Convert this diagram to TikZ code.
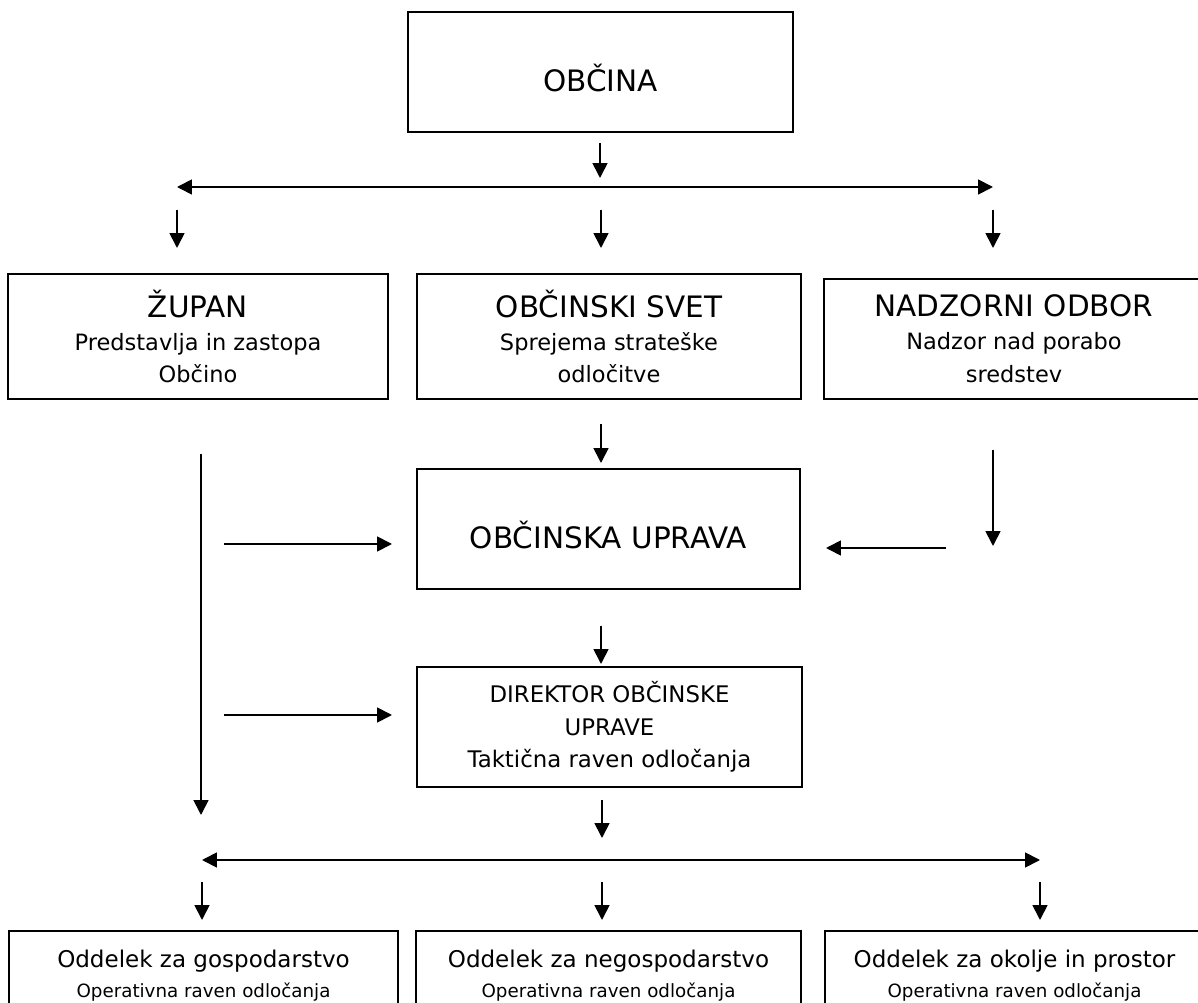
\documentclass[tikz,border=0pt]{standalone}
\usepackage{fontspec}
\setmainfont{DejaVu Sans}
\usetikzlibrary{arrows.meta,positioning,calc}

\newcommand{\naslov}{\fontsize{16.8}{19}\selectfont}
\newcommand{\opis}{\fontsize{12.8}{18.7}\selectfont}
\newcommand{\srednji}{\fontsize{13}{18.4}\selectfont}
\newcommand{\drobno}{\fontsize{10.4}{17}\selectfont}
\newcommand{\nizje}[1]{\raisebox{-3.5pt}[\height][\depth]{#1}}

\tikzset{
  box/.style={draw,line width=1pt,rectangle,align=center,inner sep=0pt},
  arr/.style={line width=1pt,-{Triangle[length=8.5pt,width=8.5pt]}},
}

\begin{document}
\begin{tikzpicture}[x=0.02cm,y=-0.02cm]
    \useasboundingbox (0,0) rectangle (1198,1003);
    % skatle
    \node[box,minimum width=7.7cm,minimum height=2.4cm,font=\naslov] (obcina) at (600.5,72) {\nizje{OBČINA}};
    \node[box,minimum width=7.6cm,minimum height=2.5cm,font=\opis] (zupan) at (198,336.5) {{\naslov ŽUPAN}\\Predstavlja in zastopa\\Občino};
    \node[box,minimum width=7.68cm,minimum height=2.5cm,font=\opis] (svet) at (609,336.5) {{\naslov OBČINSKI SVET}\\Sprejema strateške\\odločitve};
    \node[box,minimum width=7.6cm,minimum height=2.4cm,font=\opis] (nadzor) at (1014,339) {{\naslov NADZORNI ODBOR}\\Nadzor nad porabo\\sredstev};
    \node[box,minimum width=7.66cm,minimum height=2.4cm,font=\naslov] (uprava) at (608.5,529) {\nizje{OBČINSKA UPRAVA}};
    \node[box,minimum width=7.7cm,minimum height=2.4cm,font=\srednji] (direktor) at (609.5,727) {DIREKTOR OBČINSKE\\UPRAVE\\Taktična raven odločanja};
    \foreach \x/\w/\n/\t in {203.5/7.78/odd1/gospodarstvo,608.5/7.7/odd2/negospodarstvo,1014.5/7.58/odd3/okolje in prostor}{
      \node[box,minimum width=\w cm,minimum height=1.78cm,font=\drobno] (\n) at (\x,975.5) {{\fontsize{13.1}{17}\selectfont Oddelek za \t}\\Operativna raven odločanja};
    }
    % razvejitev pod obcino
    \coordinate (r1) at (600,187);
    \coordinate (r1l) at (177,187);
    \coordinate (r1r) at (993,187);
    \draw[arr] ($(obcina.south)+(-0.5,10)$) -- ($(r1)+(0,-9)$);
    \draw[arr] (r1) -- (r1l);
    \draw[arr] (r1) -- (r1r);
    \foreach \x/\n in {177/a,601/b,993/c}{
      \coordinate (d\n) at (\x,210);
      \draw[arr] (d\n) -- ++(0,38);
    }
    % povezave do uprave
    \coordinate (s1) at (601,424);
    \draw[arr] (s1) -- ++(0,39);
    \coordinate (v1) at (201,454);
    \draw[arr] (v1) -- ++(0,361);
    \coordinate (u1) at (224,544);
    \draw[arr] (u1) -- ++(168,0);
    \coordinate (u2) at (224,715);
    \draw[arr] (u2) -- ++(168,0);
    \coordinate (n1) at (946,548);
    \draw[arr] (n1) -- ++(-120,0);
    \coordinate (n2) at (993,450);
    \draw[arr] (n2) -- ++(0,96);
    \coordinate (s2) at (601,626);
    \draw[arr] (s2) -- ++(0,38);
    % razvejitev pod direktorjem
    \coordinate (s3) at (602,800);
    \draw[arr] (s3) -- ++(0,38);
    \coordinate (r2) at (602,860);
    \coordinate (r2l) at (202,860);
    \coordinate (r2r) at (1040,860);
    \draw[arr] (r2) -- (r2l);
    \draw[arr] (r2) -- (r2r);
    \foreach \x/\n in {202/a,602/b,1040/c}{
      \coordinate (e\n) at (\x,882);
      \draw[arr] (e\n) -- ++(0,38);
    }
\end{tikzpicture}
\end{document}
